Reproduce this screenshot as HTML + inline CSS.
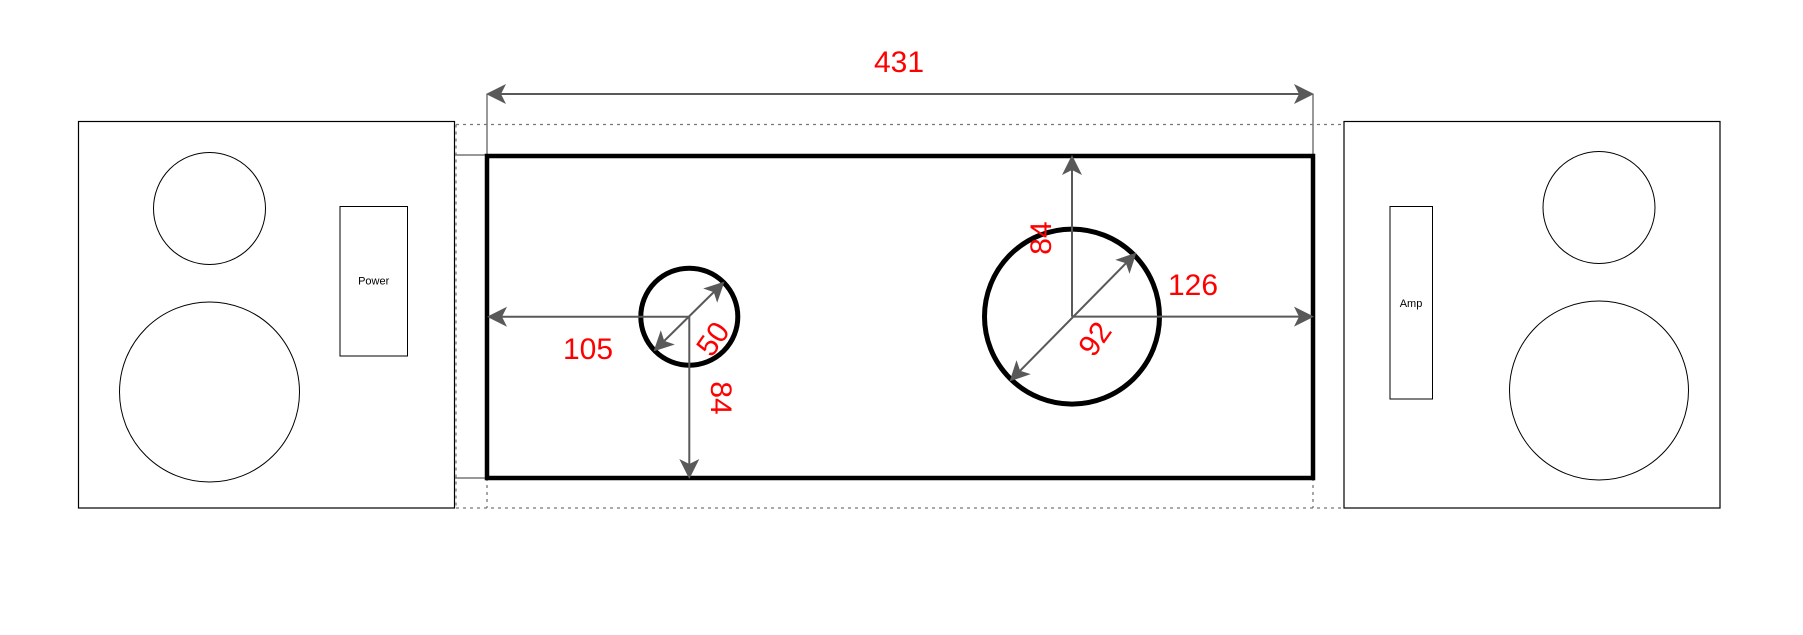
<!DOCTYPE html>
<html><head><meta charset="utf-8"><style>
html,body{margin:0;padding:0;background:#fff;}
svg{display:block;}
text{font-family:"Liberation Sans",Arial,sans-serif;}
</style></head><body>
<svg width="1803" height="635" viewBox="0 0 1803 635" xmlns="http://www.w3.org/2000/svg">
<defs>
<marker id="a" viewBox="0 0 20 22" refX="18" refY="11" markerWidth="20" markerHeight="22" markerUnits="userSpaceOnUse" orient="auto-start-reverse">
<path d="M0,1 L20,11 L0,21 L5,11 Z" fill="#595959"/>
</marker>
</defs>
<rect x="78.5" y="121.5" width="376" height="386.5" fill="none" stroke="#000" stroke-width="1.2"/>
<circle cx="209.5" cy="208.5" r="56" fill="none" stroke="#000" stroke-width="1"/>
<circle cx="209.5" cy="392" r="90" fill="none" stroke="#000" stroke-width="1"/>
<rect x="340" y="206.5" width="67.5" height="149.5" fill="none" stroke="#000" stroke-width="1"/>
<text x="373.7" y="284.5" font-size="11" text-anchor="middle">Power</text>
<rect x="1344" y="121.5" width="376" height="386.5" fill="none" stroke="#000" stroke-width="1.2"/>
<circle cx="1599" cy="207.5" r="56" fill="none" stroke="#000" stroke-width="1"/>
<circle cx="1599" cy="390.5" r="89.5" fill="none" stroke="#000" stroke-width="1"/>
<rect x="1390" y="206.5" width="42.5" height="192.5" fill="none" stroke="#000" stroke-width="1"/>
<text x="1411" y="307" font-size="11" text-anchor="middle">Amp</text>
<g stroke="#777" stroke-width="1.3" stroke-dasharray="3,4" fill="none">
<line x1="456" y1="124.5" x2="1344" y2="124.5"/>
<line x1="456" y1="508" x2="1344" y2="508"/>
<line x1="456" y1="124.5" x2="456" y2="508"/>
<line x1="487" y1="478" x2="487" y2="508"/>
<line x1="1313" y1="478" x2="1313" y2="508"/>
</g>
<g stroke="#777" stroke-width="1.5">
<line x1="455" y1="155" x2="487" y2="155"/>
<line x1="455" y1="478" x2="487" y2="478"/>
<line x1="487" y1="94" x2="487" y2="156"/>
<line x1="1313" y1="94" x2="1313" y2="156"/>
</g>
<rect x="487" y="156" width="826" height="322" fill="none" stroke="#000" stroke-width="4.5"/>
<circle cx="689.3" cy="316.7" r="48.5" fill="none" stroke="#000" stroke-width="5"/>
<circle cx="1072" cy="316.6" r="87.5" fill="none" stroke="#000" stroke-width="5"/>
<g stroke="#595959" stroke-width="2" fill="none">
<line x1="488" y1="94" x2="1312" y2="94" marker-start="url(#a)" marker-end="url(#a)"/>
<line x1="689.3" y1="316.7" x2="489" y2="316.7" marker-end="url(#a)"/>
<line x1="689.3" y1="316.7" x2="689.3" y2="477" marker-end="url(#a)"/>
<line x1="655" y1="350" x2="723" y2="283" marker-start="url(#a)" marker-end="url(#a)"/>
<line x1="1072" y1="316.6" x2="1072" y2="157" marker-end="url(#a)"/>
<line x1="1072" y1="316.6" x2="1312" y2="316.6" marker-end="url(#a)"/>
<line x1="1011" y1="380" x2="1135" y2="254" marker-start="url(#a)" marker-end="url(#a)"/>
</g>
<g fill="#ff0000" font-size="30" text-anchor="middle">
<text x="899" y="72">431</text>
<text x="588" y="359">105</text>
<text x="1193" y="295">126</text>
<text transform="translate(713,339) rotate(-55)" y="10">50</text>
<text transform="translate(721,398) rotate(90)" y="10">84</text>
<text transform="translate(1041,238) rotate(-90)" y="10">84</text>
<text transform="translate(1095,339) rotate(-55)" y="10">92</text>
</g>
</svg>
</body></html>
